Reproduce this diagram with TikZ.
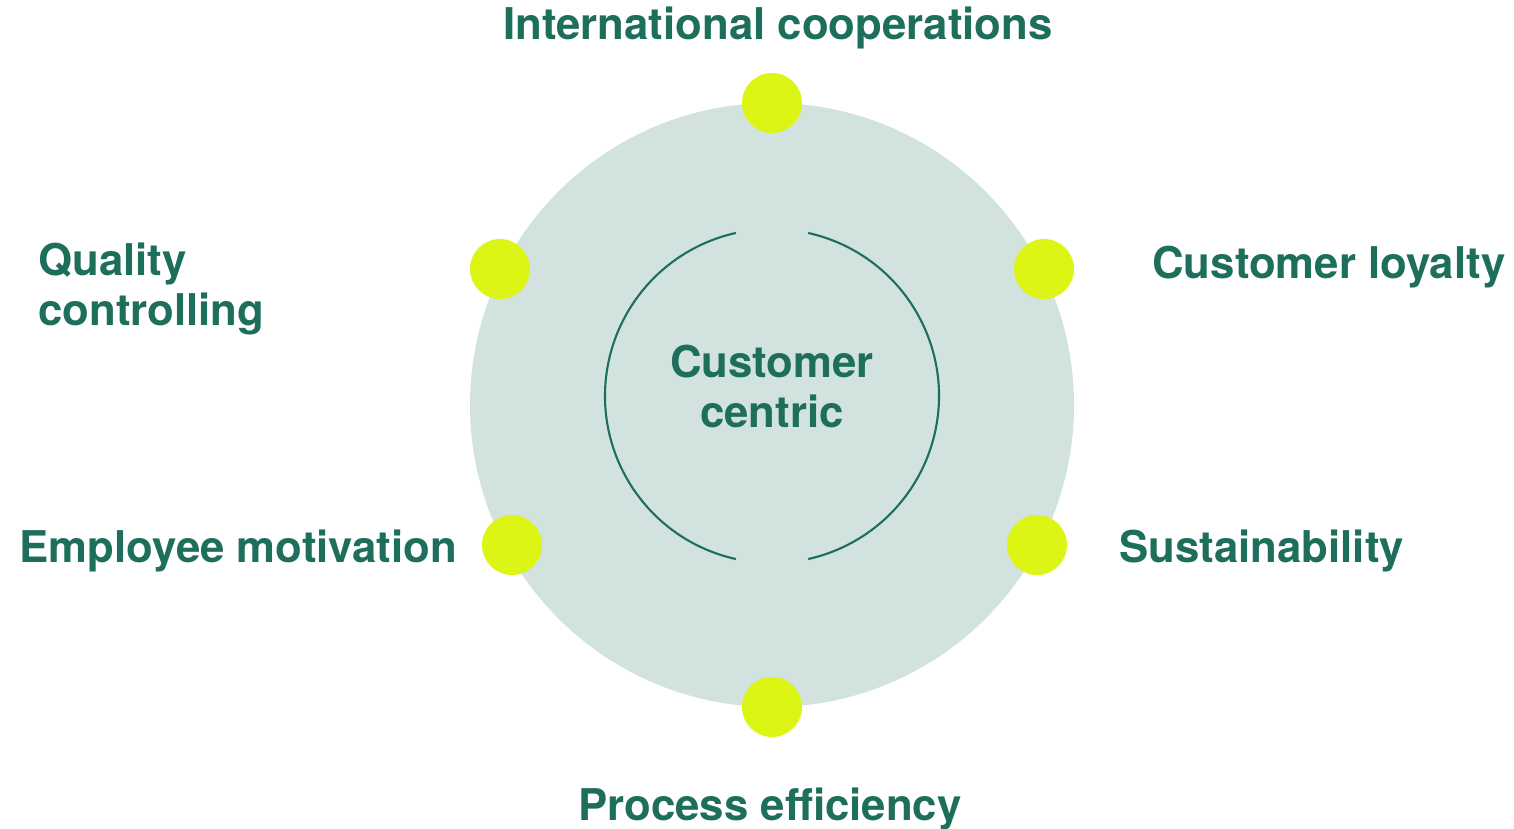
\documentclass[tikz,border=0pt]{standalone}
\usepackage{fontspec}
\setmainfont{TeX Gyre Heros}
\definecolor{txt}{HTML}{1E6E5C}
\definecolor{disc}{HTML}{DCF515}
\definecolor{bg}{HTML}{D2E3DF}
\begin{document}
\begin{tikzpicture}[x=0.02cm,y=-0.02cm,
  lbl/.style={text=txt,font=\fontsize{24.9}{28.3}\selectfont\bfseries,inner sep=0pt},
  dot/.style={circle,fill=disc,minimum size=1.2cm,inner sep=0pt},
  ring/.style={txt,line width=1.2pt}]
\useasboundingbox (0,0) rectangle (1514,828);
\fill[bg] (772,405) circle[radius=302];
\coordinate (c) at (772,396);
\draw[ring] (c) ++(-77.5:167) arc[start angle=-77.5,end angle=77.5,radius=167];
\draw[ring] (c) ++(102.5:167) arc[start angle=102.5,end angle=257.5,radius=167];
\node[dot] (d1) at (772,103) {};
\node[dot] (d2) at (1044,269) {};
\node[dot] (d3) at (1037,545) {};
\node[dot] (d4) at (772,707) {};
\node[dot] (d5) at (512,545) {};
\node[dot] (d6) at (500,269) {};
\node[lbl,anchor=base] (t1) at (778,40) {International cooperations};
\node[lbl,anchor=base west] (t2) at (1152,278) {Customer loyalty};
\node[lbl,anchor=base west] (t3) at (1119,562) {Sustainability};
\node[lbl,anchor=base] (t4) at (770,820) {Process efficiency};
\node[lbl,anchor=base west] (t5) at (19,562) {Employee motivation};
\node[lbl,anchor=base west,align=left] (t6) at (38,325) {Quality\\controlling};
\node[lbl,anchor=base,align=center] (t7) at (772,427) {Customer\\centric};
\end{tikzpicture}
\end{document}
